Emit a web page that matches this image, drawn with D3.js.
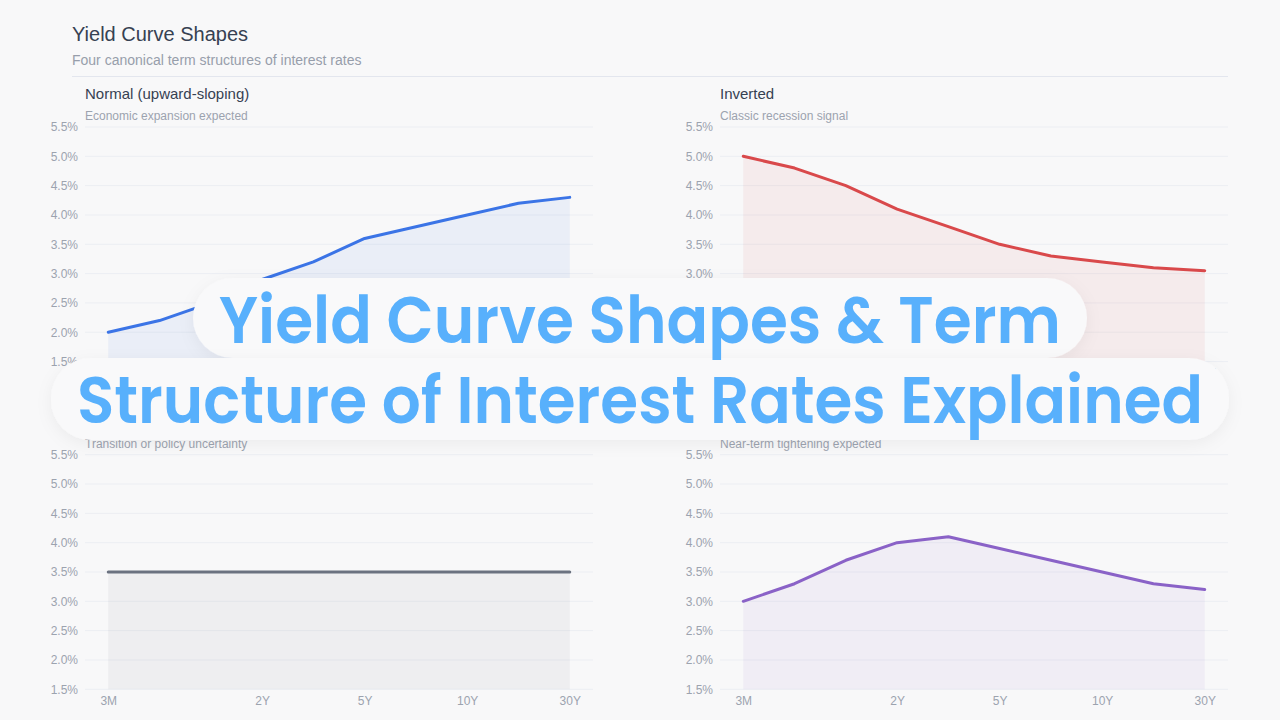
<!DOCTYPE html>
<html><head><meta charset="utf-8">
<script src="https://cdn.jsdelivr.net/npm/d3@7"></script>
<style>
html,body{margin:0;padding:0;background:#f8f8f9;}
svg{display:block;}
</style></head>
<body>
<svg id="chart" width="1280" height="720"></svg>
<script>
// ---- data ----
const maturities = ["3M","6M","1Y","2Y","3Y","5Y","7Y","10Y","20Y","30Y"];
const xTickLabels = ["3M","2Y","5Y","10Y","30Y"];
const yTickValues = [1.5,2.0,2.5,3.0,3.5,4.0,4.5,5.0,5.5];
const normalYields   = [2.0,2.2,2.5,2.9,3.2,3.6,3.8,4.0,4.2,4.3];
const invertedYields = [5.0,4.8,4.5,4.1,3.8,3.5,3.3,3.2,3.1,3.05];
const flatYields     = [3.5,3.5,3.5,3.5,3.5,3.5,3.5,3.5,3.5,3.5];
const humpedYields   = [3.0,3.3,3.7,4.0,4.1,3.9,3.7,3.5,3.3,3.2];
const panelTitles    = ["Normal (upward-sloping)","Inverted","Flat","Humped"];
const panelSubtitles = ["Economic expansion expected","Classic recession signal","Transition or policy uncertainty","Near-term tightening expected"];
const chartTitle = "Yield Curve Shapes";
const chartSubtitle = "Four canonical term structures of interest rates";
const overlayLines = ["Yield Curve Shapes & Term","Structure of Interest Rates Explained"];

// ---- styles ----
const seriesColors = ["#3b74e6","#d9494b","#6b7280","#8a62c7"];
const seriesList = [normalYields, invertedYields, flatYields, humpedYields];
const FONT = "'Liberation Sans', Arial, Helvetica, sans-serif";

const svg = d3.select("#chart");
svg.append("rect").attr("width",1280).attr("height",720).attr("fill","#f8f8f9");

svg.append("text").attr("x",72).attr("y",41).text(chartTitle)
  .attr("font-family",FONT).attr("font-size",20).attr("fill","#364152");
svg.append("text").attr("x",72).attr("y",65).text(chartSubtitle)
  .attr("font-family",FONT).attr("font-size",14).attr("fill","#979eab");
svg.append("line").attr("x1",72).attr("x2",1228).attr("y1",76.5).attr("y2",76.5)
  .attr("stroke","#e3e6ee").attr("stroke-width",1);

const W = 508, H = 234.6;
const origins = [[85,127],[720,127],[85,454.7],[720,454.7]];

const x = d3.scalePoint().domain(maturities).range([0,W]).padding(0.454);
const y = d3.scaleLinear().domain([1.5,5.5]).range([H,0]);

seriesList.forEach((vals,i)=>{
  const [ox,oy] = origins[i];
  const g = svg.append("g").attr("transform",`translate(${ox},${oy})`);
  g.append("text").attr("x",0).attr("y",-28).text(panelTitles[i])
    .attr("font-family",FONT).attr("font-size",15).attr("fill","#364152");
  g.append("text").attr("x",0).attr("y",-7).text(panelSubtitles[i])
    .attr("font-family",FONT).attr("font-size",12).attr("fill","#9ca3af");

  // gridlines
  g.selectAll("line.grid").data(yTickValues).join("line")
    .attr("x1",0).attr("x2",W).attr("y1",d=>y(d)).attr("y2",d=>y(d))
    .attr("stroke","#eceef3").attr("stroke-width",1);

  // y axis
  const ya = g.append("g").call(d3.axisLeft(y).tickValues(yTickValues)
      .tickFormat(d=>d3.format(".1f")(d)+"%").tickSize(0).tickPadding(7));
  ya.select(".domain").remove();
  ya.selectAll("text").attr("font-family",FONT).attr("font-size",12).attr("fill","#9ca3af");

  // x axis
  const xa = g.append("g").attr("transform",`translate(0,${H})`)
    .call(d3.axisBottom(x).tickValues(xTickLabels).tickSize(0).tickPadding(7));
  xa.select(".domain").remove();
  xa.selectAll("text").attr("font-family",FONT).attr("font-size",12).attr("fill","#9ca3af");

  const data = maturities.map((m,k)=>({m, v: vals[k]}));
  const area = d3.area().x(d=>x(d.m)).y0(H).y1(d=>y(d.v));
  const line = d3.line().x(d=>x(d.m)).y(d=>y(d.v));
  g.append("path").datum(data).attr("d",area).attr("fill",seriesColors[i]).attr("fill-opacity",0.07);
  g.append("path").datum(data).attr("d",line).attr("fill","none")
    .attr("stroke",seriesColors[i]).attr("stroke-width",3).attr("stroke-linejoin","round").attr("stroke-linecap","round");
});

// ---- overlay title ----
const defs = svg.append("defs");
const f = defs.append("filter").attr("id","sh").attr("x","-20%").attr("y","-50%").attr("width","140%").attr("height","200%");
f.append("feDropShadow").attr("dx",0).attr("dy",4).attr("stdDeviation",8).attr("flood-color","#000").attr("flood-opacity",0.05);

const ov = svg.append("g");
const OFONT = "Poppins, Inter, 'Open Sans', sans-serif";
const baselines = [342.5, 423];
const targetWidths = [842, 1126];
const pillTops = [278, 358];
const pillHeights = [80, 82];
const pills = ov.append("g");
const texts = ov.append("g");
overlayLines.forEach((t,i)=>{
  texts.append("text").attr("x",640).attr("y",baselines[i]).attr("text-anchor","middle")
    .attr("font-family",OFONT).attr("font-weight",600).attr("font-size",65)
    .attr("fill","#58b0fc").text(t)
    .attr("textLength",targetWidths[i]).attr("lengthAdjust","spacingAndGlyphs");
  const wdt = targetWidths[i] + 52;
  pills.append("rect").attr("x",640-wdt/2).attr("y",pillTops[i]).attr("width",wdt).attr("height",pillHeights[i])
    .attr("rx",40).attr("fill","#f9f9fa").attr("fill-opacity",1).attr("filter","url(#sh)");
});
</script>
</body></html>
